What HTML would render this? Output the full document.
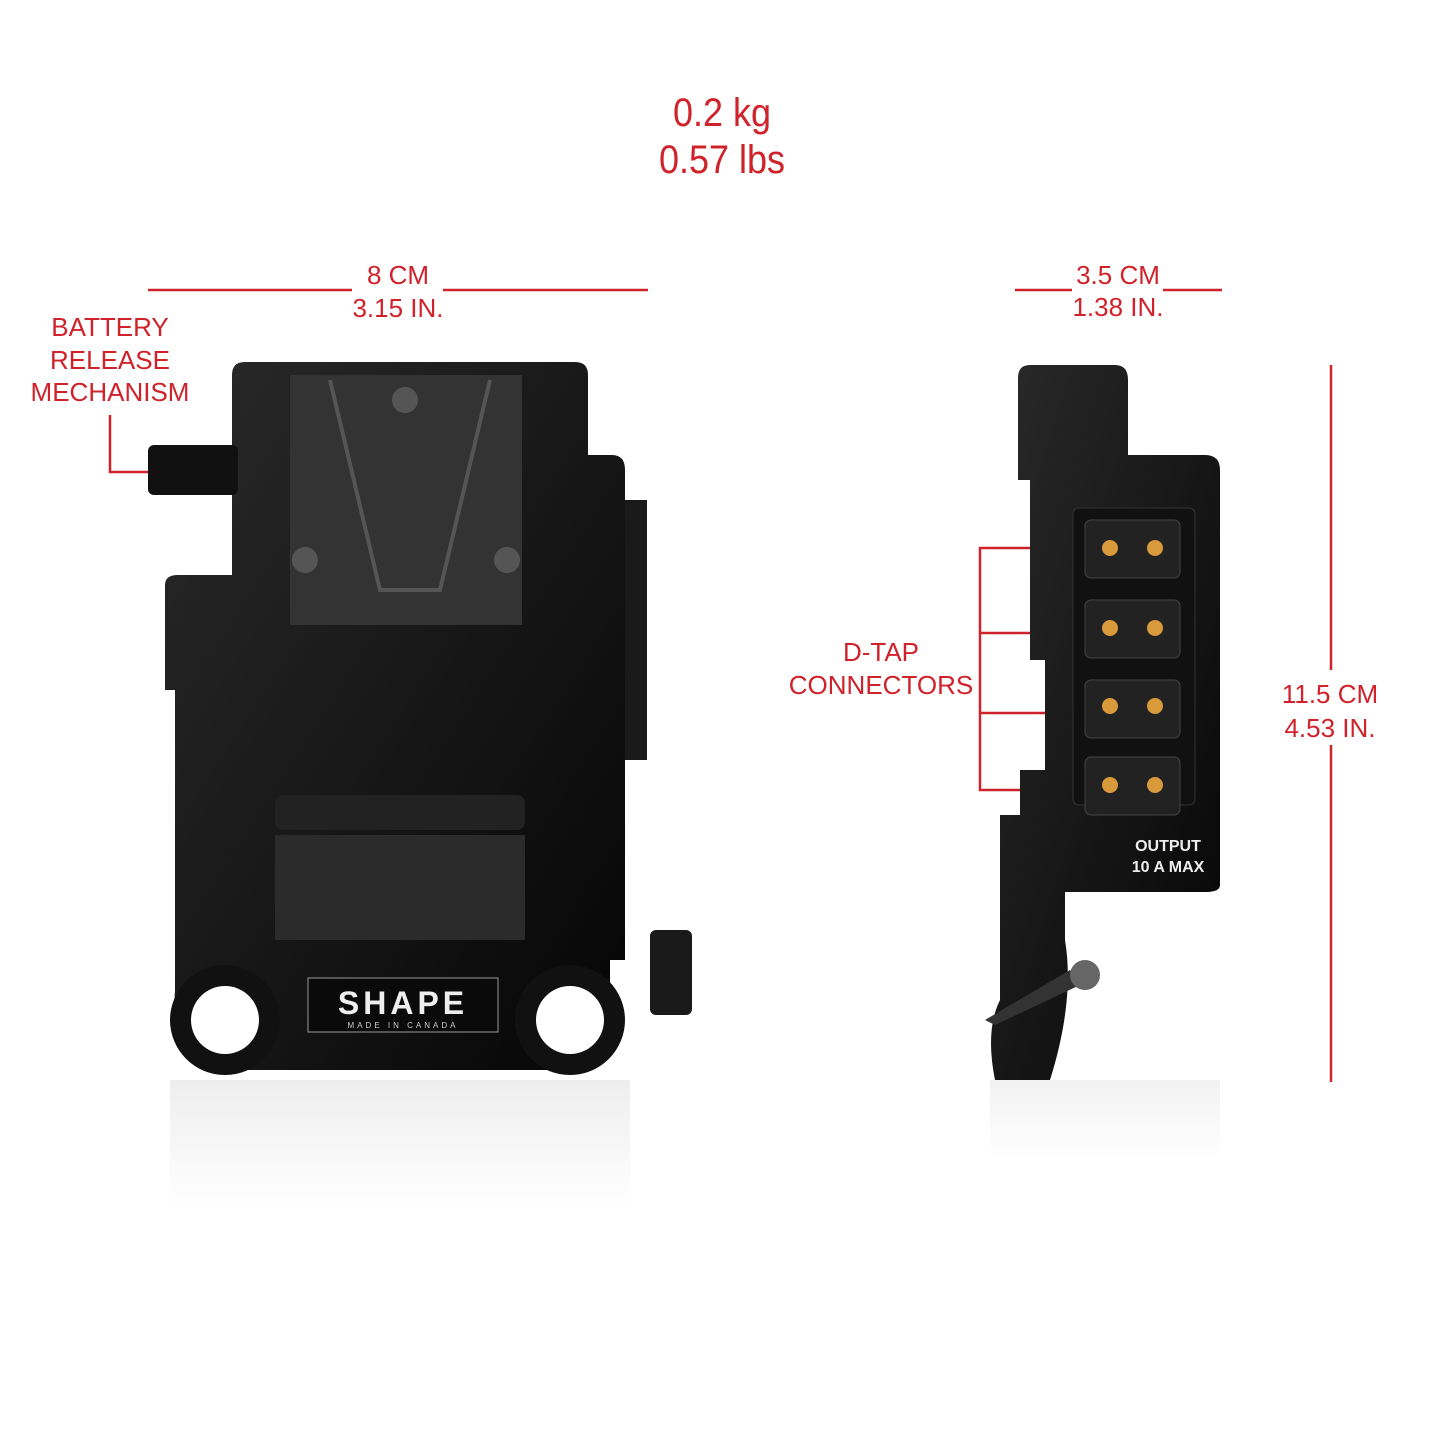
<!DOCTYPE html>
<html><head><meta charset="utf-8"><style>
html,body{margin:0;padding:0;background:#fff;}
svg{display:block}
text{font-family:"Liberation Sans",sans-serif;fill:#d0222a;}
</style></head><body>
<svg width="1445" height="1445" viewBox="0 0 1445 1445" xmlns="http://www.w3.org/2000/svg">
<defs>
<linearGradient id="g1" x1="0" y1="0" x2="1" y2="1"><stop offset="0" stop-color="#2a2a2a"/><stop offset="1" stop-color="#050505"/></linearGradient>
<linearGradient id="ref" x1="0" y1="0" x2="0" y2="1"><stop offset="0" stop-color="#ddd"/><stop offset="1" stop-color="#fff"/></linearGradient>
</defs>
<!-- weight -->
<text x="722" y="126" font-size="40" text-anchor="middle" transform="translate(722 0) scale(0.9 1) translate(-722 0)">0.2 kg</text>
<text x="722" y="173" font-size="40" text-anchor="middle" transform="translate(722 0) scale(0.9 1) translate(-722 0)">0.57 lbs</text>
<!-- width front -->
<g stroke="#d0222a" stroke-width="2.5">
<line x1="148" y1="290" x2="352" y2="290"/><line x1="443" y1="290" x2="648" y2="290"/>
<line x1="1015" y1="290" x2="1072" y2="290"/><line x1="1163" y1="290" x2="1222" y2="290"/>
<line x1="1331" y1="365" x2="1331" y2="670"/><line x1="1331" y1="745" x2="1331" y2="1082"/>
<polyline fill="none" points="110,415 110,472 152,472"/>
<polyline fill="none" points="1075,548 980,548 980,790 1075,790"/>
<line x1="980" y1="633" x2="1075" y2="633"/><line x1="980" y1="713" x2="1075" y2="713"/>
</g>
<g font-size="26" text-anchor="middle">
<text x="398" y="284">8 CM</text><text x="398" y="317">3.15 IN.</text>
<text x="1118" y="284">3.5 CM</text><text x="1118" y="316">1.38 IN.</text>
<text x="1330" y="703">11.5 CM</text><text x="1330" y="737">4.53 IN.</text>
<text x="110" y="336">BATTERY</text><text x="110" y="369">RELEASE</text><text x="110" y="401">MECHANISM</text>
<text x="881" y="661">D-TAP</text><text x="881" y="694">CONNECTORS</text>
</g>
<!-- front reflection -->
<rect x="170" y="1080" width="460" height="130" fill="url(#ref)" opacity="0.5"/>
<!-- front plate -->
<path d="M245 362 H575 Q588 362 588 375 V455 H612 Q625 455 625 470 V960 H610 V990 Q620 1050 570 1070 H225 Q170 1050 175 990 V690 H165 V585 Q165 575 178 575 H232 V375 Q232 362 245 362Z" fill="url(#g1)"/>
<rect x="625" y="500" width="22" height="260" fill="#1a1a1a"/>
<rect x="148" y="445" width="90" height="50" rx="6" fill="#111"/>
<path d="M290 375 H522 V625 H290Z" fill="#333"/>
<path d="M330 380 L380 590 H440 L490 380" fill="none" stroke="#555" stroke-width="4"/>
<circle cx="405" cy="400" r="13" fill="#555"/><circle cx="305" cy="560" r="13" fill="#555"/><circle cx="507" cy="560" r="13" fill="#555"/>
<rect x="275" y="795" width="250" height="35" rx="8" fill="#222"/>
<rect x="275" y="835" width="250" height="105" fill="#2b2b2b"/>
<circle cx="225" cy="1020" r="55" fill="#111"/><circle cx="570" cy="1020" r="55" fill="#111"/>
<circle cx="225" cy="1020" r="34" fill="#fff"/><circle cx="570" cy="1020" r="34" fill="#fff"/>
<rect x="308" y="978" width="190" height="54" fill="#0a0a0a" stroke="#999" stroke-width="1"/>
<text x="403" y="1014" font-size="32" text-anchor="middle" style="fill:#eee;font-weight:bold;letter-spacing:4px">SHAPE</text>
<text x="403" y="1028" font-size="8" text-anchor="middle" style="fill:#ccc;letter-spacing:3px">MADE IN CANADA</text>
<rect x="650" y="930" width="42" height="85" rx="6" fill="#1a1a1a"/>
<!-- side view -->
<rect x="990" y="1080" width="230" height="80" fill="url(#ref)" opacity="0.4"/>
<path d="M1030 365 H1115 Q1128 365 1128 380 V455 H1205 Q1220 455 1220 470 V885 Q1220 892 1205 892 H1065 V940 Q1075 1000 1050 1080 H995 Q985 1030 1000 1000 V815 H1020 V770 H1045 V660 H1030 V480 H1018 V378 Q1018 365 1030 365Z" fill="url(#g1)"/>
<rect x="1073" y="508" width="122" height="297" rx="6" fill="#111" stroke="#333"/>
<g>
<rect x="1085" y="520" width="95" height="58" rx="6" fill="#222" stroke="#444"/>
<rect x="1085" y="600" width="95" height="58" rx="6" fill="#222" stroke="#444"/>
<rect x="1085" y="680" width="95" height="58" rx="6" fill="#222" stroke="#444"/>
<rect x="1085" y="757" width="95" height="58" rx="6" fill="#222" stroke="#444"/>
</g>
<g fill="#d89a3a">
<circle cx="1110" cy="548" r="8"/><circle cx="1155" cy="548" r="8"/>
<circle cx="1110" cy="628" r="8"/><circle cx="1155" cy="628" r="8"/>
<circle cx="1110" cy="706" r="8"/><circle cx="1155" cy="706" r="8"/>
<circle cx="1110" cy="785" r="8"/><circle cx="1155" cy="785" r="8"/>
</g>
<text x="1168" y="851" font-size="16" text-anchor="middle" style="fill:#eee;font-weight:bold">OUTPUT</text>
<text x="1168" y="872" font-size="16" text-anchor="middle" style="fill:#eee;font-weight:bold">10 A MAX</text>
<path d="M985 1020 L1070 970 L1080 985 L995 1025Z" fill="#333"/>
<circle cx="1085" cy="975" r="15" fill="#666"/>
</svg>
</body></html>
